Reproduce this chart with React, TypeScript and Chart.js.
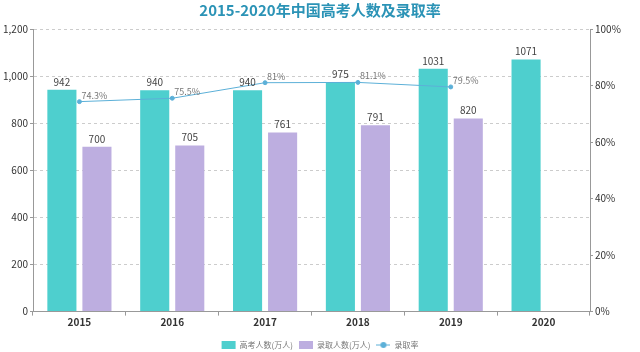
import React, { useEffect, useRef } from "react";
import { Chart, registerables } from "chart.js";

Chart.register(...registerables);

const years = ["2015", "2016", "2017", "2018", "2019", "2020"];
const examinees = [942, 940, 940, 975, 1031, 1071];
const admitted = [700, 705, 761, 791, 820, null];
const admissionRate = [74.3, 75.5, 81, 81.1, 79.5, null];
const leftTicksMax = 1200;
const rightTicksMax = 100;

const TEAL = "#4ecfce";
const PURPLE = "#bdaee0";
const LINE = "#5cb0d8";
const FONT = "'Noto Sans CJK SC', 'Noto Sans', sans-serif";

function makeLineIcon(): HTMLCanvasElement {
  const c = document.createElement("canvas");
  c.width = 14;
  c.height = 8;
  const ctx = c.getContext("2d")!;
  ctx.strokeStyle = LINE;
  ctx.lineWidth = 1;
  ctx.beginPath();
  ctx.moveTo(0, 4);
  ctx.lineTo(14, 4);
  ctx.stroke();
  ctx.fillStyle = LINE;
  ctx.beginPath();
  ctx.arc(7, 4, 3, 0, Math.PI * 2);
  ctx.fill();
  return c;
}

const labelPlugin = {
  id: "valueLabels",
  afterDatasetsDraw(chart: any) {
    const ctx = chart.ctx;
    ctx.save();
    chart.data.datasets.forEach((ds: any, di: number) => {
      const meta = chart.getDatasetMeta(di);
      meta.data.forEach((el: any, i: number) => {
        const v = ds.data[i];
        if (v === null || v === undefined) return;
        if (ds.type === "line") {
          ctx.font = `9px ${FONT}`;
          ctx.fillStyle = "#777";
          ctx.textAlign = "left";
          ctx.textBaseline = "bottom";
          ctx.fillText(`${v}%`, el.x + 2, el.y - 2);
        } else {
          ctx.font = `10px ${FONT}`;
          ctx.fillStyle = "#444";
          ctx.textAlign = "center";
          ctx.textBaseline = "bottom";
          ctx.fillText(String(v), el.x, el.y - 3);
        }
      });
    });
    ctx.restore();
  },
};

export default function App() {
  const ref = useRef<HTMLCanvasElement | null>(null);
  useEffect(() => {
    document.body.style.margin = "0";
    const lineIcon = makeLineIcon();
    const chart = new Chart(ref.current!, {
      type: "bar",
      data: {
        labels: years,
        datasets: [
          {
            type: "bar",
            label: "高考人数(万人)",
            data: examinees,
            backgroundColor: TEAL,
            yAxisID: "y",
            order: 2,
          },
          {
            type: "bar",
            label: "录取人数(万人)",
            data: admitted as any,
            backgroundColor: PURPLE,
            yAxisID: "y",
            order: 2,
          },
          {
            type: "line",
            label: "录取率",
            data: admissionRate as any,
            borderColor: LINE,
            backgroundColor: LINE,
            borderWidth: 1,
            pointRadius: 2,
            pointBackgroundColor: LINE,
            pointBorderColor: LINE,
            yAxisID: "y1",
            order: 1,
          } as any,
        ],
      },
      options: {
        responsive: false,
        animation: false,
        datasets: {
          bar: { categoryPercentage: 0.755, barPercentage: 0.83 },
        } as any,
        layout: { padding: { left: 0, right: 0, top: 0, bottom: -7 } },
        plugins: {
          title: {
            display: true,
            text: "2015-2020年中国高考人数及录取率",
            color: "#2b93b6",
            font: { family: FONT, size: 15, weight: "bold" },
            padding: { top: 1, bottom: 10 },
          },
          legend: {
            position: "bottom",
            labels: {
              font: { family: FONT, size: 8 },
              color: "#777",
              usePointStyle: true,
              pointStyleWidth: 14,
              boxHeight: 8,
              padding: 6,
              generateLabels: (ch: any) =>
                ch.data.datasets.map((ds: any, i: number) => ({
                  text: ds.label,
                  fillStyle: ds.backgroundColor,
                  strokeStyle: ds.backgroundColor,
                  lineWidth: 0,
                  pointStyle: ds.type === "line" ? lineIcon : "rect",
                  datasetIndex: i,
                  fontColor: "#777",
                  hidden: false,
                })),
            },
          },
          tooltip: { enabled: false },
        },
        scales: {
          x: {
            grid: {
              display: true,
              drawOnChartArea: false,
              drawTicks: true,
              tickLength: 4,
              color: "#999",
              offset: true,
            },
            border: { display: true, color: "#999" },
            ticks: {
              color: "#333",
              font: { family: FONT, size: 10, weight: "bold" },
              padding: 1,
            },
            afterFit: (s: any) => {
              s.height = 23.4;
            },
          },
          y: {
            position: "left",
            min: 0,
            max: leftTicksMax,
            ticks: {
              stepSize: 200,
              color: "#333",
              font: { family: FONT, size: 10 },
              padding: 2,
            },
            grid: {
              color: "#ccc",
              tickLength: 3,
              tickColor: "#999",
              tickBorderDash: [],
            } as any,
            border: { display: true, color: "#999", dash: [3, 3] } as any,
            afterFit: (s: any) => {
              s.width = 33;
            },
          },
          y1: {
            position: "right",
            min: 0,
            max: rightTicksMax,
            ticks: {
              stepSize: 20,
              color: "#333",
              font: { family: FONT, size: 10 },
              padding: 2,
              callback: (v: any) => `${v}%`,
            },
            grid: { drawOnChartArea: false, tickLength: 3, color: "#999" },
            border: { display: true, color: "#999" },
            afterFit: (s: any) => {
              s.width = 50;
            },
          },
        },
      },
      plugins: [labelPlugin],
    });
    return () => chart.destroy();
  }, []);
  return (
    <div style={{ width: 640, height: 352, background: "#fff" }}>
      <canvas ref={ref} width={640} height={352} />
    </div>
  );
}
